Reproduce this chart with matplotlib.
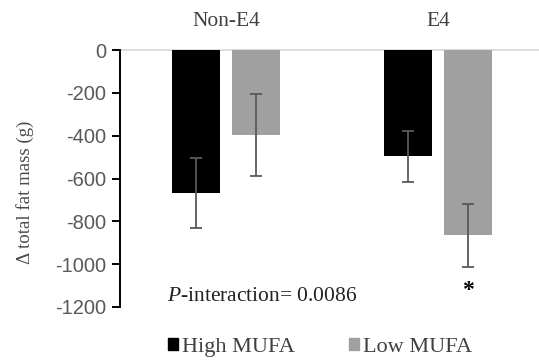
import matplotlib.pyplot as plt
import numpy as np
from matplotlib.patches import Patch

groups = ["Non-E4", "E4"]
series = ["High MUFA", "Low MUFA"]
high_mufa = [-668, -496]
low_mufa = [-398, -864]
high_err = [164, 120]
low_err = [192, 147]
yticks = [0, -200, -400, -600, -800, -1000, -1200]

colors = ["#000000", "#a0a0a0"]
serif = "Liberation Serif"
sans = "Liberation Sans"
gray_txt = "#595959"

plt.rcParams["mathtext.fontset"] = "custom"
plt.rcParams["mathtext.it"] = "Liberation Serif:italic"
plt.rcParams["mathtext.rm"] = "Liberation Serif"

fig = plt.figure(figsize=(5.39, 3.6), dpi=100)
ax = fig.add_axes([120 / 539, 1 - 307 / 360, 1 - 120 / 539, (307 - 50) / 360])

x = np.arange(len(groups))
w = 0.226
off = 0.1415
ekw = dict(ecolor="#595959", elinewidth=1.3, capthick=1.3)
ax.bar(x - off, high_mufa, w, color=colors[0], zorder=2)
ax.bar(x + off, low_mufa, w, color=colors[1], zorder=2)
ax.errorbar(x - off, high_mufa, yerr=high_err, fmt="none", capsize=4.5, zorder=3, **ekw)
ax.errorbar(x + off, low_mufa, yerr=low_err, fmt="none", capsize=4.5, zorder=3, **ekw)

ax.axhline(0, color="#d9d9d9", lw=1.3, zorder=1, clip_on=False)
ax.set_xlim(-0.5, -0.5 + (539 - 120) / 212)
ax.set_ylim(-1200, 0)
ax.set_yticks(yticks)
ax.set_yticklabels([str(t) for t in yticks], fontsize=14.5, family=sans, color=gray_txt)
ax.tick_params(axis="y", direction="out", length=6, width=1.4, color="black", pad=4)
ax.set_xticks([])
for s in ["top", "right", "bottom"]:
    ax.spines[s].set_visible(False)
ax.spines["left"].set_linewidth(1.4)

for xi, g in zip(x, groups):
    ax.text(xi, 131, g, ha="center", va="center", fontsize=15.5, family=serif,
            color="#404040", clip_on=False)

ax.text(-0.278, -1153, r"$\it{P}$-interaction= 0.0086", ha="left", va="center",
        fontsize=15.5, family=serif, color="#222222")
ax.text(1 + off, -1125, "*", ha="center", va="center", fontsize=17, family=serif,
        fontweight="bold", color="black")

fig.text(25 / 539, 1 - 192 / 360, "\u0394 total fat mass (g)", rotation=90,
         ha="center", va="center", fontsize=13.6, family=serif, color="#4a4a4a")

handles = [Patch(color=c) for c in colors]
fig.legend(handles, series, loc="center", bbox_to_anchor=(0.594, 0.036), ncol=2,
           frameon=False, handlelength=0.45, handleheight=0.45, handletextpad=0.2,
           columnspacing=2.4, prop={"family": serif, "size": 16},
           labelcolor="#404040")

fig.savefig("out.png", dpi=100)
